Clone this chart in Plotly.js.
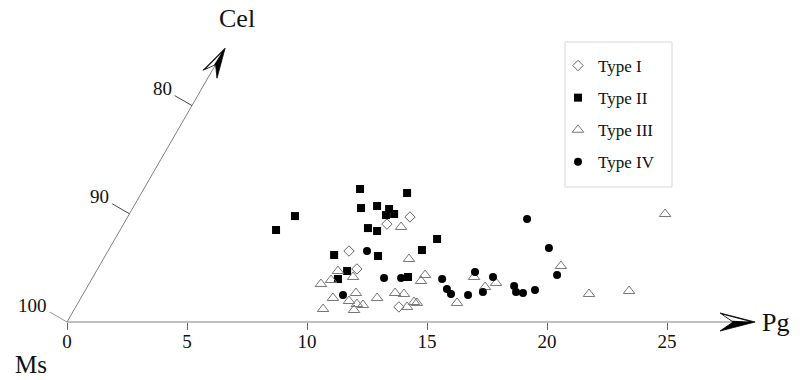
<!DOCTYPE html>
<html><head><meta charset="utf-8">
<script src="https://cdn.plot.ly/plotly-3.0.1.min.js"></script>
<style>html,body{margin:0;padding:0;background:#fff}</style>
</head><body>
<div id="chart" style="width:800px;height:380px"></div>
<script>
// ---- data: x = position along Pg axis, y = height along the Cel direction (100 - Cel, vertical component)
const seriesNames = ["Type I", "Type II", "Type III", "Type IV"];

const typeI_x = [14.29, 13.33, 11.75, 12.08, 13.83];
const typeI_y = [9.70, 9.05, 6.56, 4.90, 1.39];

const typeII_x = [8.71, 9.50, 11.13, 11.29, 11.67, 12.21, 12.25, 12.54, 12.92, 12.92, 12.96, 13.29, 13.42, 13.63, 14.17, 14.21, 14.79, 15.42];
const typeII_y = [8.50, 9.79, 6.19, 3.97, 4.71, 12.29, 10.53, 8.68, 10.72, 8.41, 6.10, 9.88, 10.44, 9.98, 11.92, 4.16, 6.65, 7.67];

const typeIII_x = [10.58, 10.67, 11.00, 11.08, 11.29, 11.75, 11.92, 11.96, 12.04, 12.08, 12.33, 12.92, 13.67, 13.92, 14.04, 14.17, 14.25, 14.46, 14.58, 14.75, 14.92, 16.25, 16.96, 17.42, 17.88, 20.58, 21.75, 23.42, 24.92];
const typeIII_y = [3.51, 1.20, 3.88, 2.22, 4.71, 1.94, 4.16, 1.11, 2.68, 1.66, 1.57, 2.22, 2.68, 8.78, 2.59, 1.39, 5.82, 1.85, 1.76, 3.79, 4.34, 1.76, 4.16, 3.23, 3.60, 5.17, 2.59, 2.86, 9.98];

const typeIV_x = [11.50, 12.50, 13.21, 13.92, 15.63, 15.83, 16.00, 16.71, 17.00, 17.33, 17.75, 18.63, 18.71, 19.00, 19.50, 19.17, 20.08, 20.42];
const typeIV_y = [2.49, 6.56, 4.06, 4.06, 3.97, 3.05, 2.59, 2.49, 4.62, 2.77, 4.16, 3.33, 2.77, 2.68, 2.96, 9.52, 6.84, 4.34];

const pgTicks = [0, 5, 10, 15, 20, 25];
const celTicks = [100, 90, 80];
const pgTitle = "Pg", celTitle = "Cel", originTitle = "Ms";

// ---- layout geometry
const W = 800, H = 380, M = {l: 67, r: 13, t: 19, b: 58};
const PW = W - M.l - M.r, PH = H - M.t - M.b;
const XR = [0, 30], YR = [0, 28];
const FONT = "Liberation Serif, 'Times New Roman', serif";
const toPx = (x, y) => [M.l + (x - XR[0]) / (XR[1] - XR[0]) * PW, H - M.b - (y - YR[0]) / (YR[1] - YR[0]) * PH];
const toPaper = (X, Y) => [(X - M.l) / PW, (H - M.b - Y) / PH];
const pxPerY = PH / (YR[1] - YR[0]);
const celUnitPx = pxPerY / Math.sin(Math.PI / 3); // length of one Cel unit along the slanted axis
const celDir = [Math.cos(Math.PI / 3), -Math.sin(Math.PI / 3)];
const celNorm = [-Math.sin(Math.PI / 3), -Math.cos(Math.PI / 3)];
const origin = toPx(0, 0);
const celPx = c => [origin[0] + (100 - c) * celUnitPx * celDir[0], origin[1] + (100 - c) * celUnitPx * celDir[1]];

function pathPaper(pts) {
  return pts.map((p, i) => { const q = toPaper(p[0], p[1]); return (i ? "L" : "M") + q[0].toFixed(5) + "," + q[1].toFixed(5); }).join(" ") + " Z";
}
function arrowHead(tip, u, n, len, half, notch) {
  const P = (a, b) => [tip[0] - a * u[0] + b * n[0], tip[1] - a * u[1] + b * n[1]];
  return {
    outer: [P(0, 0), P(len, half), P(notch, 0), P(len, -half)],
    sliver: [P(len - 3, half - 1.8), P(6, 0.6), P(notch + 1, 1.3)],
    notch: P(notch, 0)
  };
}

const shapes = [];
const annotations = [];
const axisColor = "#808080";

// Pg axis with arrow
const pgTip = toPx(28.67, 0);
const pgArrow = arrowHead(pgTip, [1, 0], [0, -1], 35, 9, 22);
shapes.push({type: "line", xref: "paper", yref: "paper",
  x0: toPaper(...origin)[0], y0: toPaper(...origin)[1], x1: toPaper(...pgArrow.notch)[0], y1: toPaper(...pgArrow.notch)[1],
  line: {color: axisColor, width: 1}});
shapes.push({type: "path", xref: "paper", yref: "paper", path: pathPaper(pgArrow.outer), fillcolor: "#000", line: {color: "#000", width: 0.8}});
shapes.push({type: "path", xref: "paper", yref: "paper", path: pathPaper(pgArrow.sliver), fillcolor: "#fff", line: {width: 0}});

// Cel axis with arrow
const celTip = celPx(74.7);
const celArrow = arrowHead(celTip, celDir, celNorm, 30, 8, 19);
shapes.push({type: "line", xref: "paper", yref: "paper",
  x0: toPaper(...origin)[0], y0: toPaper(...origin)[1], x1: toPaper(...celArrow.notch)[0], y1: toPaper(...celArrow.notch)[1],
  line: {color: axisColor, width: 1}});
shapes.push({type: "path", xref: "paper", yref: "paper", path: pathPaper(celArrow.outer), fillcolor: "#000", line: {color: "#000", width: 0.8}});
shapes.push({type: "path", xref: "paper", yref: "paper", path: pathPaper(celArrow.sliver), fillcolor: "#fff", line: {width: 0}});

// Cel ticks and labels
celTicks.forEach(c => {
  const b = celPx(c);
  const e = [b[0] + 20 * celNorm[0], b[1] + 20 * celNorm[1]];
  const bp = toPaper(...b), ep = toPaper(...e);
  shapes.push({type: "line", xref: "paper", yref: "paper", x0: bp[0], y0: bp[1], x1: ep[0], y1: ep[1],
    line: {color: c === 100 ? "#999" : "#444", width: 1}});
  annotations.push({xref: "paper", yref: "paper", x: ep[0], y: ep[1], text: String(c), showarrow: false,
    xanchor: "right", yanchor: "middle", xshift: -1, yshift: 7, font: {family: FONT, size: 19, color: "#111"}});
});

// Axis titles
const celTp = toPaper(celTip[0] + 12, celTip[1] - 30);
annotations.push({xref: "paper", yref: "paper", x: celTp[0], y: celTp[1], text: celTitle, showarrow: false,
  xanchor: "center", yanchor: "middle", font: {family: FONT, size: 26, color: "#111"}});
const pgTp = toPaper(pgTip[0] + 5, pgTip[1]);
annotations.push({xref: "paper", yref: "paper", x: pgTp[0], y: pgTp[1], text: pgTitle, showarrow: false,
  xanchor: "left", yanchor: "middle", font: {family: FONT, size: 26, color: "#111"}});
const msTp = toPaper(origin[0] - 36, origin[1] + 42);
annotations.push({xref: "paper", yref: "paper", x: msTp[0], y: msTp[1], text: originTitle, showarrow: false,
  xanchor: "center", yanchor: "middle", font: {family: FONT, size: 25, color: "#111"}});

// legend frame
const lb0 = toPaper(565, 187), lb1 = toPaper(672, 42);
shapes.push({type: "rect", xref: "paper", yref: "paper", x0: lb0[0], y0: lb0[1], x1: lb1[0], y1: lb1[1],
  line: {color: "#d8d8d8", width: 1}, fillcolor: "rgba(0,0,0,0)"});

const traces = [
  {x: typeI_x, y: typeI_y, name: seriesNames[0], legendgroup: "a",
   marker: {symbol: "diamond-open", size: 8, color: "#666", line: {width: 1}}},
  {x: typeII_x, y: typeII_y, name: seriesNames[1], legendgroup: "b",
   marker: {symbol: "square", size: 8, color: "#000"}},
  {x: typeIII_x, y: typeIII_y, name: seriesNames[2], legendgroup: "c",
   marker: {symbol: "triangle-up-open", size: 10, color: "#777", line: {width: 1}}},
  {x: typeIV_x, y: typeIV_y, name: seriesNames[3], legendgroup: "d",
   marker: {symbol: "circle", size: 8, color: "#000"}}
].map(t => Object.assign({type: "scatter", mode: "markers", cliponaxis: false, hoverinfo: "skip"}, t));

const legPos = toPaper(558, 48);
const layout = {
  width: W, height: H, margin: M,
  paper_bgcolor: "#fff", plot_bgcolor: "#fff",
  showlegend: true,
  legend: {x: legPos[0], y: legPos[1], xanchor: "left", yanchor: "top", bgcolor: "rgba(0,0,0,0)",
    borderwidth: 0, font: {family: FONT, size: 17, color: "#111"}, tracegroupgap: 7, traceorder: "grouped"},
  xaxis: {range: XR, showgrid: false, zeroline: false, showline: false, tickvals: pgTicks,
    ticktext: pgTicks.map(String), ticks: "outside", ticklen: 7, tickcolor: "#666", tickwidth: 1,
    ticklabelstandoff: -5,
    tickfont: {family: FONT, size: 19, color: "#111"}, fixedrange: true},
  yaxis: {range: YR, visible: false, fixedrange: true},
  shapes: shapes, annotations: annotations,
  font: {family: FONT}
};
Plotly.newPlot("chart", traces, layout, {staticPlot: true, displayModeBar: false});
</script>
</body></html>
